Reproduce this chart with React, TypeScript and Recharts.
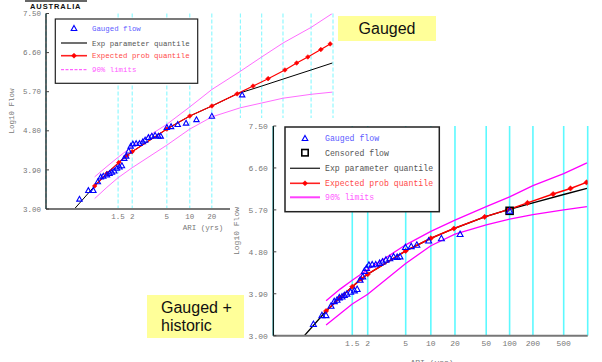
import React from 'react';
import { ComposedChart, Line, Scatter, XAxis, YAxis, CartesianGrid } from 'recharts';

// ---------- axis ticks ----------
const ariTicks = [1.5, 2, 5, 10, 20, 50, 100, 200, 500];
const ariTickLabels = ['1.5', '2', '5', '10', '20', '50', '100', '200', '500'];
const flowTicks = [3.0, 3.9, 4.8, 5.7, 6.6, 7.5];
const flowTickLabels = ['3.00', '3.90', '4.80', '5.70', '6.60', '7.50'];

// ---------- chart 1 : Gauged ----------
const g1Ari = [1.021, 1.058, 1.093, 1.135, 1.169, 1.202, 1.259, 1.306, 1.353, 1.404, 1.47, 1.54, 1.611, 1.687, 1.756, 1.851, 1.935, 2.031, 2.193, 2.375, 2.585, 2.741, 2.986, 3.27, 3.579, 3.92, 4.19, 5.0, 5.66, 6.9, 8.9, 12.3, 20, 53];
const g1Flow = [3.23, 3.43, 3.43, 3.63, 3.74, 3.76, 3.79, 3.82, 3.85, 3.88, 3.94, 3.97, 4.0, 4.17, 4.22, 4.34, 4.45, 4.5, 4.51, 4.51, 4.55, 4.59, 4.65, 4.68, 4.7, 4.68, 4.68, 4.88, 4.9, 4.95, 4.98, 5.06, 5.14, 5.63];
const ep1Ari = [1.104, 1.259, 1.52, 1.78, 2, 5, 10, 20, 45, 75.5, 123, 213, 312, 450, 688, 933];
const ep1Flow = [3.53, 3.82, 4.07, 4.23, 4.32, 4.84, 5.14, 5.37, 5.65, 5.83, 6.0, 6.2, 6.36, 6.5, 6.67, 6.8];
const xp1Ari = [1.0103, 1.104, 1.259, 1.52, 1.78, 2, 5, 10, 20, 45, 100, 200, 500, 1000];
const xp1Flow = [3.0, 3.53, 3.82, 4.07, 4.23, 4.32, 4.84, 5.14, 5.37, 5.65, 5.83, 5.99, 6.2, 6.36];
const lim1Ari = [1.104, 1.259, 1.5, 2, 5, 10, 20, 50, 100, 200, 500, 1000];
const up1Flow = [3.74, 3.98, 4.19, 4.44, 4.95, 5.35, 5.75, 6.17, 6.5, 6.82, 7.18, 7.5];
const lo1Flow = [3.24, 3.5, 3.72, 3.95, 4.47, 4.84, 5.12, 5.33, 5.44, 5.55, 5.64, 5.69];

// ---------- chart 2 : Gauged + historic ----------
const g2Ari = [1.031, 1.071, 1.099, 1.144, 1.18, 1.215, 1.248, 1.29, 1.331, 1.38, 1.46, 1.554, 1.63, 1.72, 1.81, 1.87, 1.95, 2.05, 2.2, 2.38, 2.6, 2.78, 3.02, 3.32, 3.65, 4.0, 4.3, 4.97, 5.8, 6.76, 9.4, 13.5, 23.2, 100];
const g2Flow = [3.25, 3.44, 3.44, 3.64, 3.74, 3.77, 3.82, 3.84, 3.87, 3.9, 3.94, 3.97, 4.0, 4.2, 4.27, 4.39, 4.45, 4.52, 4.53, 4.53, 4.56, 4.59, 4.63, 4.66, 4.7, 4.69, 4.7, 4.9, 4.92, 4.95, 5.04, 5.09, 5.18, 5.68];
const cens2Ari = [100];
const cens2Flow = [5.68];
const ep2Ari = [1.1, 1.26, 1.5, 1.76, 2, 5, 10, 19.4, 47.8, 93.7, 170, 365, 612, 987];
const ep2Flow = [3.53, 3.815, 4.05, 4.22, 4.32, 4.82, 5.09, 5.3, 5.55, 5.7, 5.85, 6.04, 6.16, 6.29];
const xp2Ari = [1.0103, 1.1, 1.26, 1.5, 1.76, 2, 5, 10, 19.4, 47.8, 93.7, 200, 500, 1000];
const xp2Flow = [3.0, 3.53, 3.815, 4.05, 4.22, 4.32, 4.82, 5.09, 5.3, 5.55, 5.7, 5.85, 6.03, 6.16];
const lim2Ari = [1.1, 1.26, 1.5, 2, 5, 10, 20, 50, 100, 200, 500, 1000];
const up2Flow = [3.75, 4.0, 4.19, 4.42, 4.95, 5.24, 5.48, 5.77, 5.98, 6.22, 6.48, 6.71];
const lo2Flow = [3.23, 3.47, 3.68, 3.89, 4.55, 4.93, 5.18, 5.38, 5.5, 5.6, 5.7, 5.77];

// ---------- helpers ----------
// Gumbel reduced variate of the ARI (probability-paper x scale)
const gumbel = (ari: number) => -Math.log(-Math.log(1 - 1 / ari));
const rows = (ari: number[], flow: number[]) => ari.map((t, i) => ({ x: gumbel(t), y: flow[i] }));
const X_DOMAIN: [number, number] = [-2.45, 6.93];
const tickXs = ariTicks.map(gumbel);

const MONO = '"Liberation Mono", "DejaVu Sans Mono", monospace';
const SANS = '"Liberation Sans", Arial, sans-serif';

const Tri = ({ cx, cy, s = 2.8, sw = 1.1 }: any) => (
  <path d={`M${cx},${cy - s}L${cx + s},${cy + s * 0.8}L${cx - s},${cy + s * 0.8}Z`} fill="none" stroke="#0000ff" strokeWidth={sw} />
);
const Sq = ({ cx, cy, s = 3.5 }: any) => (
  <rect x={cx - s} y={cy - s} width={2 * s} height={2 * s} fill="none" stroke="#000" strokeWidth={1.6} />
);
const Diamond = ({ cx, cy, s = 2.4 }: any) =>
  cx == null ? null : (
    <path d={`M${cx},${cy - s}L${cx + s},${cy}L${cx},${cy + s}L${cx - s},${cy}Z`} fill="#ff0000" stroke="#ff0000" strokeWidth={0.6} />
  );

const makeXTick = (fs: number, dy: number, maxLabelAri: number) => (props: any) => {
  const { x, y, payload } = props;
  const i = tickXs.findIndex((v) => Math.abs(v - payload.value) < 1e-6);
  if (i < 0 || ariTicks[i] > maxLabelAri) return <g />;
  return (
    <text x={x} y={y + dy} textAnchor="middle" fontSize={fs} fontFamily={MONO} fill="#777">
      {ariTickLabels[i]}
    </text>
  );
};
const makeYTick = (fs: number, dx: number) => (props: any) => {
  const { x, y, payload } = props;
  const i = flowTicks.findIndex((v) => Math.abs(v - payload.value) < 1e-6);
  return (
    <g>
      <line x1={x} x2={x + 3} y1={y} y2={y} stroke="#444" strokeWidth={1} />
      <text x={x - dx} y={y + fs * 0.35} textAnchor="end" fontSize={fs} fontFamily={MONO} fill="#777">
        {i >= 0 ? flowTickLabels[i] : ''}
      </text>
    </g>
  );
};

function FloodChart({ c }: { c: any }) {
  return (
    <ComposedChart width={c.width} height={c.height} margin={c.margin}>
      <CartesianGrid xAxisId="b" yAxisId="l" horizontal={false} vertical stroke={c.gridStroke} strokeWidth={c.gridWidth} strokeDasharray={c.gridDash} />
      <XAxis xAxisId="b" type="number" dataKey="x" domain={X_DOMAIN} ticks={tickXs} interval={0} allowDataOverflow height={c.xH} tickLine={false} tickSize={0} tickMargin={0} tick={makeXTick(c.fs, c.xTickDy, c.maxLabelAri)} axisLine={{ stroke: '#777', strokeWidth: 2 }} />
      <XAxis xAxisId="t" orientation="top" type="number" dataKey="x" domain={X_DOMAIN} allowDataOverflow height={0} tick={false} tickLine={false} axisLine={{ stroke: '#888', strokeWidth: 1.2 }} />
      <YAxis yAxisId="l" type="number" dataKey="y" domain={[3, 7.5]} ticks={flowTicks} interval={0} allowDataOverflow width={c.yW} tickLine={false} tickSize={0} tickMargin={0} tick={makeYTick(c.fs, c.yTickDx)} axisLine={{ stroke: '#000', strokeWidth: 1.2 }} />
      <YAxis yAxisId="r" orientation="right" type="number" dataKey="y" domain={[3, 7.5]} allowDataOverflow width={0} tick={false} tickLine={false} axisLine={{ stroke: c.rightStroke, strokeWidth: 2 }} />
      <Line xAxisId="b" yAxisId="l" data={c.up} dataKey="y" stroke={c.magenta} strokeWidth={c.magW} dot={false} isAnimationActive={false} />
      <Line xAxisId="b" yAxisId="l" data={c.lo} dataKey="y" stroke={c.magenta} strokeWidth={c.magW} dot={false} isAnimationActive={false} />
      <Line xAxisId="b" yAxisId="l" data={c.xp} dataKey="y" stroke="#000" strokeWidth={c.blackW} dot={false} isAnimationActive={false} />
      <Line xAxisId="b" yAxisId="l" data={c.ep} dataKey="y" stroke="#ff0000" strokeWidth={c.redW} dot={<Diamond s={c.dia} />} isAnimationActive={false} />
      {c.cens ? (
        <Scatter xAxisId="b" yAxisId="l" data={c.cens} dataKey="y" shape={(p: any) => <Sq cx={p.cx} cy={p.cy} />} isAnimationActive={false} />
      ) : null}
      <Scatter xAxisId="b" yAxisId="l" data={c.gauged} dataKey="y" shape={(p: any) => <Tri cx={p.cx} cy={p.cy} s={c.tri} />} isAnimationActive={false} />
    </ComposedChart>
  );
}

const chart1 = {
  width: 345, height: 235,
  margin: { top: 13.5, right: 12, left: 0, bottom: 0 },
  yW: 46, xH: 26, fs: 7.5, xTickDy: 9.5, yTickDx: 5, maxLabelAri: 20,
  gridStroke: '#7af7ff', gridWidth: 1, gridDash: '4 2',
  magenta: '#ff6cff', magW: 1, blackW: 1, redW: 1.2, dia: 2.3, tri: 2.7,
  rightStroke: '#666',
  gauged: rows(g1Ari, g1Flow), ep: rows(ep1Ari, ep1Flow), xp: rows(xp1Ari, xp1Flow),
  up: rows(lim1Ari, up1Flow), lo: rows(lim1Ari, lo1Flow),
};
const chart2 = {
  width: 372, height: 244,
  margin: { top: 8, right: 14.3, left: 0, bottom: 0 },
  yW: 43.3, xH: 26.3, fs: 8, xTickDy: 10.5, yTickDx: 5.5, maxLabelAri: 1000,
  gridStroke: '#5cf9ff', gridWidth: 1.6, gridDash: undefined,
  magenta: '#ff00ff', magW: 1.3, blackW: 1.3, redW: 1.5, dia: 2.6, tri: 3,
  rightStroke: '#111',
  gauged: rows(g2Ari, g2Flow), cens: rows(cens2Ari, cens2Flow), ep: rows(ep2Ari, ep2Flow), xp: rows(xp2Ari, xp2Flow),
  up: rows(lim2Ari, up2Flow), lo: rows(lim2Ari, lo2Flow),
};

function LegendBox({ x, y, w, h, rowYs, items, fs, lineX1, lineX2, textX, magW, magDash, boxW }: any) {
  const mx = (lineX1 + lineX2) / 2;
  return (
    <g>
      <rect x={x} y={y} width={w} height={h} fill="#fff" stroke="#222" strokeWidth={boxW} />
      {items.map((it: any, i: number) => {
        const cy = rowYs[i];
        let mark: any = null;
        if (it.kind === 'tri') mark = <Tri cx={mx} cy={cy} s={2.8} />;
        if (it.kind === 'sq') mark = <Sq cx={mx} cy={cy} s={3.2} />;
        if (it.kind === 'black') mark = <line x1={lineX1} x2={lineX2} y1={cy} y2={cy} stroke="#333" strokeWidth={1.4} />;
        if (it.kind === 'red')
          mark = (
            <g>
              <line x1={lineX1} x2={lineX2} y1={cy} y2={cy} stroke="#ff2020" strokeWidth={1.6} />
              <Diamond cx={mx} cy={cy} s={2.5} />
            </g>
          );
        if (it.kind === 'mag') mark = <line x1={lineX1} x2={lineX2} y1={cy} y2={cy} stroke="#ff40ff" strokeWidth={magW} strokeDasharray={magDash} />;
        return (
          <g key={i}>
            {mark}
            <text x={textX} y={cy + fs * 0.35} fontSize={fs} fontFamily={MONO} fill={it.color}>{it.label}</text>
          </g>
        );
      })}
    </g>
  );
}

const legend1Items = [
  { kind: 'tri', label: 'Gauged flow', color: '#5c5cff' },
  { kind: 'black', label: 'Exp parameter quantile', color: '#555' },
  { kind: 'red', label: 'Expected prob quantile', color: '#ff4a4a' },
  { kind: 'mag', label: '90% limits', color: '#ff5cff' },
];
const legend2Items = [
  { kind: 'tri', label: 'Gauged flow', color: '#5c5cff' },
  { kind: 'sq', label: 'Censored flow', color: '#555' },
  { kind: 'black', label: 'Exp parameter quantile', color: '#555' },
  { kind: 'red', label: 'Expected prob quantile', color: '#ff4a4a' },
  { kind: 'mag', label: '90% limits', color: '#ff5cff' },
];

export default function App() {
  return (
    <div style={{ position: 'absolute', left: 0, top: 0, width: 602, height: 362, overflow: 'hidden', background: '#fff' }}>
      {/* logo */}
      <div style={{ position: 'absolute', left: 25, top: 0, width: 62, height: 2, background: '#666' }} />
      <div style={{ position: 'absolute', left: 30, top: 2, fontFamily: SANS, fontSize: 7.5, fontWeight: 900, letterSpacing: 0.9, lineHeight: '9px', color: '#111' }}>AUSTRALIA</div>

      {/* chart 1 */}
      <div style={{ position: 'absolute', left: 0, top: 0 }}>
        <FloodChart c={chart1} />
      </div>
      <svg style={{ position: 'absolute', left: 0, top: 0 }} width={345} height={240}>
        <text x={12} y={111} transform="rotate(-90 12 111)" textAnchor="middle" dominantBaseline="middle" fontSize={7.5} fontFamily={MONO} fill="#777">Log10 Flow</text>
        <text x={203} y={230} textAnchor="middle" fontSize={7.5} fontFamily={MONO} fill="#777">ARI (yrs)</text>
        <LegendBox x={55.3} y={19} w={142.4} h={64.3} rowYs={[28.3, 43, 55.7, 69.7]} items={legend1Items} fs={7.4} lineX1={61} lineX2={87} textX={92} magW={1} magDash="3 1.5" boxW={1.2} />
      </svg>

      {/* chart 2 */}
      <div style={{ position: 'absolute', left: 230, top: 118, background: '#fff' }}>
        <FloodChart c={chart2} />
      </div>
      <svg style={{ position: 'absolute', left: 0, top: 0 }} width={602} height={362}>
        <text x={237} y={231} transform="rotate(-90 237 231)" textAnchor="middle" dominantBaseline="middle" fontSize={8} fontFamily={MONO} fill="#777">Log10 Flow</text>
        <text x={432} y={365} textAnchor="middle" fontSize={8} fontFamily={MONO} fill="#777">ARI (yrs)</text>
        <LegendBox x={285} y={127} w={154.3} h={84.7} rowYs={[138.3, 152.7, 168.3, 183.3, 197.3]} items={legend2Items} fs={8.2} lineX1={290} lineX2={320} textX={325} magW={2} magDash={undefined} boxW={1.5} />
      </svg>

      {/* annotation boxes */}
      <div style={{ position: 'absolute', left: 338, top: 16, width: 98, height: 25, background: '#ffff99', fontFamily: SANS, fontSize: 16, lineHeight: '25px', textAlign: 'center', color: '#111' }}>Gauged</div>
      <div style={{ position: 'absolute', left: 147, top: 295, width: 97, height: 43, background: '#ffff99', fontFamily: SANS, fontSize: 16, lineHeight: '18.4px', color: '#111', paddingLeft: 14, paddingTop: 4, boxSizing: 'border-box' }}>
        Gauged +<br />historic
      </div>
    </div>
  );
}
